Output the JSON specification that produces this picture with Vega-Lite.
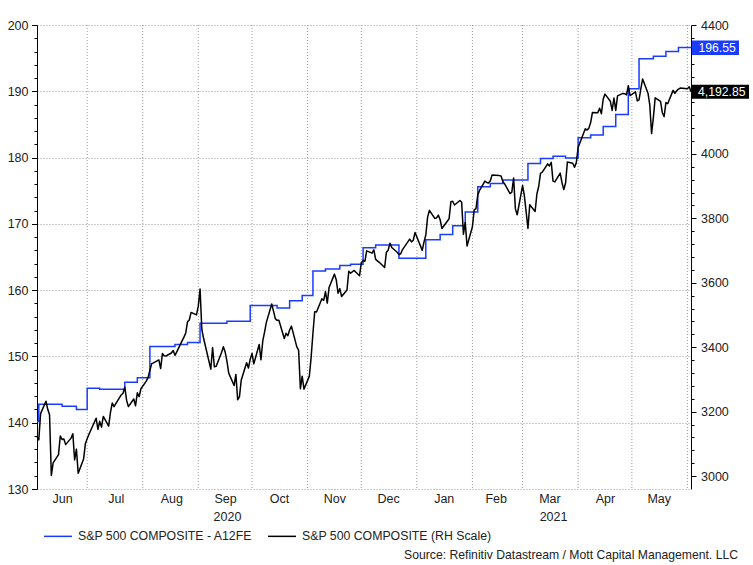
{
  "$schema": "https://vega.github.io/schema/vega-lite/v6.json",
  "width": 654,
  "height": 464,
  "autosize": "none",
  "padding": {"left": 37, "top": 25, "right": 62, "bottom": 76},
  "config": {
    "view": {"stroke": null},
    "font": "Liberation Sans",
    "axis": {"labelFont": "Liberation Sans", "labelFontSize": 12.5, "labelColor": "#222222", "domainColor": "#000000", "tickColor": "#000000", "gridColor": "#999999", "gridDash": [1, 2], "labelOverlap": false, "labelFlush": false},
    "legend": {"orient": "none", "legendX": 6, "legendY": 496, "direction": "horizontal", "symbolType": "stroke", "symbolSize": 784, "symbolStrokeWidth": 1.5, "labelFont": "Liberation Sans", "labelFontSize": 12.3, "labelColor": "#222222", "labelOffset": 5, "labelLimit": 0, "columnPadding": 12, "padding": 0, "title": null}
  },
  "title": {"text": "Source: Refinitiv Datastream / Mott Capital Management. LLC", "orient": "bottom", "anchor": "end", "frame": "group", "dx": 47, "offset": 6, "fontSize": 12.2, "fontWeight": "normal", "font": "Liberation Sans", "color": "#222222"},
  "datasets": {
    "months": [
      {"d": "2020-07-01"}, {"d": "2020-08-01"}, {"d": "2020-09-01"}, {"d": "2020-10-01"}, {"d": "2020-11-01"}, {"d": "2020-12-01"},
      {"d": "2021-01-01"}, {"d": "2021-02-01"}, {"d": "2021-03-01"}, {"d": "2021-04-01"}, {"d": "2021-05-01"}, {"d": "2021-06-01"}
    ],
    "eps": [
      {"d": "2020-06-03", "v": 140.2}, {"d": "2020-06-04", "v": 142.8}, {"d": "2020-06-17", "v": 142.5}, {"d": "2020-06-25", "v": 142.0},
      {"d": "2020-07-01", "v": 145.2}, {"d": "2020-07-08", "v": 145.05}, {"d": "2020-07-22", "v": 146.1}, {"d": "2020-07-29", "v": 146.8},
      {"d": "2020-08-05", "v": 151.5}, {"d": "2020-08-19", "v": 151.8}, {"d": "2020-08-26", "v": 152.1},
      {"d": "2020-09-02", "v": 155.0}, {"d": "2020-09-17", "v": 155.3}, {"d": "2020-09-30", "v": 157.7},
      {"d": "2020-10-15", "v": 157.3}, {"d": "2020-10-22", "v": 158.4}, {"d": "2020-10-29", "v": 159.2},
      {"d": "2020-11-04", "v": 162.9}, {"d": "2020-11-11", "v": 163.2}, {"d": "2020-11-19", "v": 163.7}, {"d": "2020-11-25", "v": 163.9},
      {"d": "2020-12-02", "v": 166.4}, {"d": "2020-12-09", "v": 166.8}, {"d": "2020-12-22", "v": 164.8},
      {"d": "2021-01-06", "v": 167.6}, {"d": "2021-01-14", "v": 168.4}, {"d": "2021-01-21", "v": 169.7}, {"d": "2021-01-28", "v": 171.8},
      {"d": "2021-02-04", "v": 175.6}, {"d": "2021-02-11", "v": 176.1}, {"d": "2021-02-18", "v": 176.6},
      {"d": "2021-03-04", "v": 179.1}, {"d": "2021-03-11", "v": 179.85}, {"d": "2021-03-18", "v": 180.2}, {"d": "2021-03-25", "v": 179.95},
      {"d": "2021-04-01", "v": 183.0}, {"d": "2021-04-08", "v": 183.4}, {"d": "2021-04-15", "v": 184.7}, {"d": "2021-04-22", "v": 186.5}, {"d": "2021-04-29", "v": 190.4},
      {"d": "2021-05-05", "v": 194.9}, {"d": "2021-05-13", "v": 195.3}, {"d": "2021-05-20", "v": 196.0}, {"d": "2021-05-27", "v": 196.6},
      {"d": "2021-06-03", "v": 196.55}
    ],
    "spx": [
      {"d":"2020-06-03","v":3122.87},{"d":"2020-06-04","v":3112.35},{"d":"2020-06-05","v":3193.93},{"d":"2020-06-08","v":3232.39},{"d":"2020-06-09","v":3207.18},{"d":"2020-06-10","v":3190.14},{"d":"2020-06-11","v":3002.10},{"d":"2020-06-12","v":3041.31},{"d":"2020-06-15","v":3066.59},{"d":"2020-06-16","v":3124.74},{"d":"2020-06-17","v":3113.49},{"d":"2020-06-18","v":3115.34},{"d":"2020-06-19","v":3097.74},{"d":"2020-06-22","v":3117.86},{"d":"2020-06-23","v":3131.29},{"d":"2020-06-24","v":3050.33},{"d":"2020-06-25","v":3083.76},{"d":"2020-06-26","v":3009.05},{"d":"2020-06-29","v":3053.24},{"d":"2020-06-30","v":3100.29},
      {"d":"2020-07-01","v":3115.86},{"d":"2020-07-02","v":3130.01},{"d":"2020-07-06","v":3179.72},{"d":"2020-07-07","v":3145.32},{"d":"2020-07-08","v":3169.94},{"d":"2020-07-09","v":3152.05},{"d":"2020-07-10","v":3185.04},{"d":"2020-07-13","v":3155.22},{"d":"2020-07-14","v":3197.52},{"d":"2020-07-15","v":3226.56},{"d":"2020-07-16","v":3215.57},{"d":"2020-07-17","v":3224.73},{"d":"2020-07-20","v":3251.84},{"d":"2020-07-21","v":3257.30},{"d":"2020-07-22","v":3276.02},{"d":"2020-07-23","v":3235.66},{"d":"2020-07-24","v":3215.63},{"d":"2020-07-27","v":3239.41},{"d":"2020-07-28","v":3218.44},{"d":"2020-07-29","v":3258.44},{"d":"2020-07-30","v":3246.22},{"d":"2020-07-31","v":3271.12},
      {"d":"2020-08-03","v":3294.61},{"d":"2020-08-04","v":3306.51},{"d":"2020-08-05","v":3327.77},{"d":"2020-08-06","v":3349.16},{"d":"2020-08-07","v":3351.28},{"d":"2020-08-10","v":3360.47},{"d":"2020-08-11","v":3333.69},{"d":"2020-08-12","v":3380.35},{"d":"2020-08-13","v":3373.43},{"d":"2020-08-14","v":3372.85},{"d":"2020-08-17","v":3381.99},{"d":"2020-08-18","v":3389.78},{"d":"2020-08-19","v":3374.85},{"d":"2020-08-20","v":3385.51},{"d":"2020-08-21","v":3397.16},{"d":"2020-08-24","v":3431.28},{"d":"2020-08-25","v":3443.62},{"d":"2020-08-26","v":3478.73},{"d":"2020-08-27","v":3484.55},{"d":"2020-08-28","v":3508.01},{"d":"2020-08-31","v":3500.31},
      {"d":"2020-09-01","v":3526.65},{"d":"2020-09-02","v":3580.84},{"d":"2020-09-03","v":3455.06},{"d":"2020-09-04","v":3426.96},{"d":"2020-09-08","v":3331.84},{"d":"2020-09-09","v":3398.96},{"d":"2020-09-10","v":3339.19},{"d":"2020-09-11","v":3340.97},{"d":"2020-09-14","v":3383.54},{"d":"2020-09-15","v":3401.20},{"d":"2020-09-16","v":3385.49},{"d":"2020-09-17","v":3357.01},{"d":"2020-09-18","v":3319.47},{"d":"2020-09-21","v":3281.06},{"d":"2020-09-22","v":3315.57},{"d":"2020-09-23","v":3236.92},{"d":"2020-09-24","v":3246.59},{"d":"2020-09-25","v":3298.46},{"d":"2020-09-28","v":3351.60},{"d":"2020-09-29","v":3335.47},{"d":"2020-09-30","v":3363.00},
      {"d":"2020-10-01","v":3380.80},{"d":"2020-10-02","v":3348.42},{"d":"2020-10-05","v":3408.60},{"d":"2020-10-06","v":3360.97},{"d":"2020-10-07","v":3419.44},{"d":"2020-10-08","v":3446.83},{"d":"2020-10-09","v":3477.14},{"d":"2020-10-12","v":3534.22},{"d":"2020-10-13","v":3511.93},{"d":"2020-10-14","v":3488.67},{"d":"2020-10-15","v":3483.34},{"d":"2020-10-16","v":3483.81},{"d":"2020-10-19","v":3426.92},{"d":"2020-10-20","v":3443.12},{"d":"2020-10-21","v":3435.56},{"d":"2020-10-22","v":3453.49},{"d":"2020-10-23","v":3465.39},{"d":"2020-10-26","v":3400.97},{"d":"2020-10-27","v":3390.68},{"d":"2020-10-28","v":3271.03},{"d":"2020-10-29","v":3310.11},{"d":"2020-10-30","v":3269.96},
      {"d":"2020-11-02","v":3310.24},{"d":"2020-11-03","v":3369.16},{"d":"2020-11-04","v":3443.44},{"d":"2020-11-05","v":3510.45},{"d":"2020-11-06","v":3509.44},{"d":"2020-11-09","v":3550.50},{"d":"2020-11-10","v":3545.53},{"d":"2020-11-11","v":3572.66},{"d":"2020-11-12","v":3537.01},{"d":"2020-11-13","v":3585.15},{"d":"2020-11-16","v":3626.91},{"d":"2020-11-17","v":3609.53},{"d":"2020-11-18","v":3567.79},{"d":"2020-11-19","v":3581.87},{"d":"2020-11-20","v":3557.54},{"d":"2020-11-23","v":3577.59},{"d":"2020-11-24","v":3635.41},{"d":"2020-11-25","v":3629.65},{"d":"2020-11-27","v":3638.35},{"d":"2020-11-30","v":3621.63},
      {"d":"2020-12-01","v":3662.45},{"d":"2020-12-02","v":3669.01},{"d":"2020-12-03","v":3666.72},{"d":"2020-12-04","v":3699.12},{"d":"2020-12-07","v":3691.96},{"d":"2020-12-08","v":3702.25},{"d":"2020-12-09","v":3672.82},{"d":"2020-12-10","v":3668.10},{"d":"2020-12-11","v":3663.46},{"d":"2020-12-14","v":3647.49},{"d":"2020-12-15","v":3694.62},{"d":"2020-12-16","v":3701.17},{"d":"2020-12-17","v":3722.48},{"d":"2020-12-18","v":3709.41},{"d":"2020-12-21","v":3694.92},{"d":"2020-12-22","v":3687.26},{"d":"2020-12-23","v":3690.01},{"d":"2020-12-24","v":3703.06},{"d":"2020-12-28","v":3735.36},{"d":"2020-12-29","v":3727.04},{"d":"2020-12-30","v":3732.04},{"d":"2020-12-31","v":3756.07},
      {"d":"2021-01-04","v":3700.65},{"d":"2021-01-05","v":3726.86},{"d":"2021-01-06","v":3748.14},{"d":"2021-01-07","v":3803.79},{"d":"2021-01-08","v":3824.68},{"d":"2021-01-11","v":3799.61},{"d":"2021-01-12","v":3801.19},{"d":"2021-01-13","v":3809.84},{"d":"2021-01-14","v":3795.54},{"d":"2021-01-15","v":3768.25},{"d":"2021-01-19","v":3798.91},{"d":"2021-01-20","v":3851.85},{"d":"2021-01-21","v":3853.07},{"d":"2021-01-22","v":3841.47},{"d":"2021-01-25","v":3855.36},{"d":"2021-01-26","v":3849.62},{"d":"2021-01-27","v":3750.77},{"d":"2021-01-28","v":3787.38},{"d":"2021-01-29","v":3714.24},
      {"d":"2021-02-01","v":3773.86},{"d":"2021-02-02","v":3826.31},{"d":"2021-02-03","v":3830.17},{"d":"2021-02-04","v":3871.74},{"d":"2021-02-05","v":3886.83},{"d":"2021-02-08","v":3915.59},{"d":"2021-02-09","v":3911.23},{"d":"2021-02-10","v":3909.88},{"d":"2021-02-11","v":3916.38},{"d":"2021-02-12","v":3934.83},{"d":"2021-02-16","v":3932.59},{"d":"2021-02-17","v":3931.33},{"d":"2021-02-18","v":3913.97},{"d":"2021-02-19","v":3906.71},{"d":"2021-02-22","v":3876.50},{"d":"2021-02-23","v":3881.37},{"d":"2021-02-24","v":3925.43},{"d":"2021-02-25","v":3829.34},{"d":"2021-02-26","v":3811.15},
      {"d":"2021-03-01","v":3901.82},{"d":"2021-03-02","v":3870.29},{"d":"2021-03-03","v":3819.72},{"d":"2021-03-04","v":3768.47},{"d":"2021-03-05","v":3841.94},{"d":"2021-03-08","v":3821.35},{"d":"2021-03-09","v":3875.44},{"d":"2021-03-10","v":3898.81},{"d":"2021-03-11","v":3939.34},{"d":"2021-03-12","v":3943.34},{"d":"2021-03-15","v":3968.94},{"d":"2021-03-16","v":3962.71},{"d":"2021-03-17","v":3974.12},{"d":"2021-03-18","v":3915.46},{"d":"2021-03-19","v":3913.10},{"d":"2021-03-22","v":3940.59},{"d":"2021-03-23","v":3910.52},{"d":"2021-03-24","v":3889.14},{"d":"2021-03-25","v":3909.52},{"d":"2021-03-26","v":3974.54},{"d":"2021-03-29","v":3971.09},{"d":"2021-03-30","v":3958.55},{"d":"2021-03-31","v":3972.89},
      {"d":"2021-04-01","v":4019.87},{"d":"2021-04-05","v":4077.91},{"d":"2021-04-06","v":4073.94},{"d":"2021-04-07","v":4079.95},{"d":"2021-04-08","v":4097.17},{"d":"2021-04-09","v":4128.80},{"d":"2021-04-12","v":4127.99},{"d":"2021-04-13","v":4141.59},{"d":"2021-04-14","v":4124.66},{"d":"2021-04-15","v":4170.42},{"d":"2021-04-16","v":4185.47},{"d":"2021-04-19","v":4163.26},{"d":"2021-04-20","v":4134.94},{"d":"2021-04-21","v":4173.42},{"d":"2021-04-22","v":4134.98},{"d":"2021-04-23","v":4180.17},{"d":"2021-04-26","v":4187.62},{"d":"2021-04-27","v":4186.72},{"d":"2021-04-28","v":4183.18},{"d":"2021-04-29","v":4211.47},{"d":"2021-04-30","v":4181.17},
      {"d":"2021-05-03","v":4192.66},{"d":"2021-05-04","v":4164.66},{"d":"2021-05-05","v":4167.59},{"d":"2021-05-06","v":4201.62},{"d":"2021-05-07","v":4232.60},{"d":"2021-05-10","v":4188.43},{"d":"2021-05-11","v":4152.10},{"d":"2021-05-12","v":4063.04},{"d":"2021-05-13","v":4112.50},{"d":"2021-05-14","v":4173.85},{"d":"2021-05-17","v":4163.29},{"d":"2021-05-18","v":4127.83},{"d":"2021-05-19","v":4115.68},{"d":"2021-05-20","v":4159.12},{"d":"2021-05-21","v":4155.86},{"d":"2021-05-24","v":4197.05},{"d":"2021-05-25","v":4188.13},{"d":"2021-05-26","v":4195.99},{"d":"2021-05-27","v":4200.88},{"d":"2021-05-28","v":4204.11},
      {"d":"2021-06-01","v":4202.04},{"d":"2021-06-02","v":4208.12},{"d":"2021-06-03","v":4192.85}
    ]
  },
  "layer": [
    {
      "data": {"name": "months"},
      "mark": {"type": "rule", "color": "#999999", "strokeDash": [1, 2], "strokeWidth": 1},
      "encoding": {
        "x": {
          "field": "d", "type": "temporal",
          "scale": {"type": "utc", "nice": false, "domain": [{"year": 2020, "month": 6, "date": 3, "utc": true}, {"year": 2021, "month": 6, "date": 3, "utc": true}]},
          "axis": {"title": null, "orient": "bottom", "values": [{"year": 2020, "month": 9, "date": 17, "utc": true}, {"year": 2021, "month": 3, "date": 18, "utc": true}], "format": "%Y", "ticks": false, "domain": false, "grid": false, "labelPadding": 3, "offset": 18}
        }
      }
    },
    {
      "data": {"name": "eps"},
      "encoding": {
        "x": {
          "field": "d", "type": "temporal",
          "scale": {"type": "utc", "nice": false, "domain": [{"year": 2020, "month": 6, "date": 3, "utc": true}, {"year": 2021, "month": 6, "date": 3, "utc": true}]},
          "axis": {"title": null, "orient": "bottom", "format": "%b", "ticks": false, "domain": false, "grid": false, "labelPadding": 3,
            "values": [{"year": 2020, "month": 6, "date": 17, "utc": true}, {"year": 2020, "month": 7, "date": 17, "utc": true}, {"year": 2020, "month": 8, "date": 17, "utc": true}, {"year": 2020, "month": 9, "date": 16, "utc": true}, {"year": 2020, "month": 10, "date": 16, "utc": true}, {"year": 2020, "month": 11, "date": 16, "utc": true}, {"year": 2020, "month": 12, "date": 16, "utc": true}, {"year": 2021, "month": 1, "date": 16, "utc": true}, {"year": 2021, "month": 2, "date": 14, "utc": true}, {"year": 2021, "month": 3, "date": 16, "utc": true}, {"year": 2021, "month": 4, "date": 16, "utc": true}, {"year": 2021, "month": 5, "date": 16, "utc": true}]}
        },
        "y": {
          "field": "v", "type": "quantitative",
          "scale": {"domain": [130, 200], "nice": false, "zero": false},
          "axis": {"title": null, "orient": "left",
            "values": [130,132,134,136,138,140,142,144,146,148,150,152,154,156,158,160,162,164,166,168,170,172,174,176,178,180,182,184,186,188,190,192,194,196,198,200],
            "labelExpr": "datum.value % 10 === 0 ? datum.label : ''",
            "grid": true,
            "gridOpacity": {"condition": {"test": "datum.value % 10 === 0", "value": 1}, "value": 0},
            "tickSize": {"condition": {"test": "datum.value % 10 === 0", "value": 5.5}, "value": 3},
            "labelPadding": 3.5}
        }
      },
      "layer": [
        {
          "mark": {"type": "line", "interpolate": "step-after", "strokeWidth": 1.5},
          "encoding": {
            "color": {"datum": "S&P 500 COMPOSITE - A12FE", "type": "nominal", "scale": {"domain": ["S&P 500 COMPOSITE - A12FE", "S&P 500 COMPOSITE (RH Scale)"], "range": ["#1a3cff", "#000000"]}}
          }
        },
        {
          "transform": [{"filter": "datum.v === 196.55"}],
          "mark": {"type": "point", "shape": "M0.04,-0.29H1.92V0.29H0.04Z", "size": 2500, "filled": true, "fill": "#1a3cff", "opacity": 1, "strokeWidth": 0}
        },
        {
          "transform": [{"filter": "datum.v === 196.55"}],
          "mark": {"type": "text", "align": "left", "baseline": "middle", "dx": 7.5, "dy": 0.5, "color": "#ffffff", "fontSize": 12.2, "font": "Liberation Sans"},
          "encoding": {"text": {"field": "v", "type": "quantitative", "format": ",.2f"}}
        }
      ]
    },
    {
      "data": {"name": "spx"},
      "encoding": {
        "x": {
          "field": "d", "type": "temporal",
          "scale": {"type": "utc", "nice": false, "domain": [{"year": 2020, "month": 6, "date": 3, "utc": true}, {"year": 2021, "month": 6, "date": 3, "utc": true}]},
          "axis": null
        },
        "y": {
          "field": "v", "type": "quantitative",
          "scale": {"domain": [2960, 4400], "nice": false, "zero": false},
          "axis": {"title": null, "orient": "right", "format": "d",
            "values": [3000,3040,3080,3120,3160,3200,3240,3280,3320,3360,3400,3440,3480,3520,3560,3600,3640,3680,3720,3760,3800,3840,3880,3920,3960,4000,4040,4080,4120,4160,4200,4240,4280,4320,4360,4400],
            "labelExpr": "datum.value % 200 === 0 && datum.value !== 4200 ? datum.label : ''",
            "grid": false,
            "tickSize": {"condition": {"test": "datum.value % 200 === 0", "value": 5}, "value": 3},
            "labelPadding": 4.5}
        }
      },
      "layer": [
        {
          "mark": {"type": "line", "strokeWidth": 1.5, "strokeJoin": "round"},
          "encoding": {
            "color": {"datum": "S&P 500 COMPOSITE (RH Scale)", "type": "nominal", "scale": {"domain": ["S&P 500 COMPOSITE - A12FE", "S&P 500 COMPOSITE (RH Scale)"], "range": ["#1a3cff", "#000000"]}}
          }
        },
        {
          "transform": [{"filter": "datum.v === 4192.85"}],
          "mark": {"type": "point", "shape": "M0.04,-0.28H2.32V0.28H0.04Z", "size": 2500, "filled": true, "fill": "#000000", "opacity": 1, "strokeWidth": 0}
        },
        {
          "transform": [{"filter": "datum.v === 4192.85"}],
          "mark": {"type": "text", "align": "left", "baseline": "middle", "dx": 7, "dy": 0.5, "color": "#ffffff", "fontSize": 12.2, "font": "Liberation Sans"},
          "encoding": {"text": {"field": "v", "type": "quantitative", "format": ",.2f"}}
        }
      ]
    }
  ],
  "resolve": {"scale": {"y": "independent"}, "axis": {"x": "independent"}}
}
